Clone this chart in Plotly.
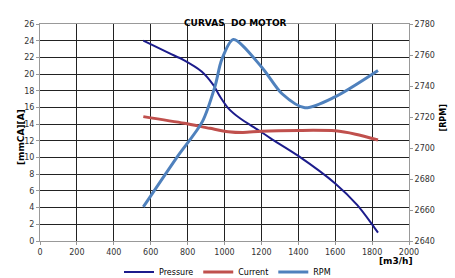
import plotly.graph_objects as go

pressure_x = [560, 700, 777, 876, 939, 976, 1021, 1084, 1183, 1250, 1400, 1600, 1720, 1800, 1832]
pressure_y = [24.0, 22.5, 21.7, 20.3, 18.7, 17.3, 15.9, 14.7, 13.3, 12.3, 10.2, 6.9, 4.3, 2.0, 1.0]

current_x = [560, 783, 921, 1021, 1100, 1200, 1400, 1600, 1710, 1832]
current_y = [14.9, 14.1, 13.5, 13.1, 13.0, 13.15, 13.25, 13.2, 12.8, 12.1]

rpm_x = [560, 742, 880, 949, 985, 1048, 1203, 1312, 1436, 1599, 1832]
rpm_y = [2662, 2694, 2717, 2740, 2757, 2770, 2752, 2735, 2726, 2733, 2750]

x_ticks = list(range(0, 2001, 200))
y_ticks = list(range(0, 27, 2))
y2_ticks = list(range(2640, 2781, 20))

FONT = "DejaVu Sans"
W, H = 455, 278
pl, pr, pt, pb = 40, 409, 24, 241

fig = go.Figure()
fig.add_trace(go.Scatter(x=pressure_x, y=pressure_y, name="Pressure", mode="lines",
                         line=dict(color="#1C1C8C", width=2, shape="spline", smoothing=0.8)))
fig.add_trace(go.Scatter(x=current_x, y=current_y, name="Current", mode="lines",
                         line=dict(color="#C0504D", width=3, shape="spline", smoothing=0.8)))
fig.add_trace(go.Scatter(x=rpm_x, y=rpm_y, name="RPM", mode="lines", yaxis="y2",
                         line=dict(color="#4F81BD", width=3, shape="spline", smoothing=0.8)))

def ax(px):
    return (px - pl) / (pr - pl)

def ay(py):
    return (pb - py) / (pb - pt)

fig.update_layout(
    width=W, height=H,
    margin=dict(l=pl, r=W - pr, t=pt, b=H - pb, autoexpand=False),
    paper_bgcolor="white", plot_bgcolor="white",
    font=dict(family=FONT, size=8, color="#333333"),
    showlegend=True,
    legend=dict(orientation="h", x=0.5, xanchor="center", xref="container",
                y=(H - 272) / H, yanchor="middle", yref="container",
                font=dict(size=8, color="#000000"), tracegroupgap=0,
                bgcolor="rgba(0,0,0,0)"),
    xaxis=dict(range=[0, 2000], tickvals=x_ticks, showgrid=True, gridcolor="#222222", gridwidth=1,
               showline=True, linecolor="#999999", mirror=True, ticks="outside", ticklen=3,
               tickcolor="#999999", zeroline=False, fixedrange=True, automargin=False),
    yaxis=dict(range=[0, 26], tickvals=y_ticks, showgrid=True, gridcolor="#222222", gridwidth=1,
               showline=True, linecolor="#999999", ticks="outside", ticklen=3, tickcolor="#999999",
               zeroline=False, fixedrange=True, automargin=False),
    yaxis2=dict(range=[2640, 2780], tickvals=y2_ticks, overlaying="y", side="right", showgrid=False,
                showline=True, linecolor="#999999", ticks="outside", ticklen=3, tickcolor="#999999",
                zeroline=False, fixedrange=True, automargin=False),
    annotations=[
        dict(text="<b>CURVAS\u00a0\u00a0DO MOTOR</b>", x=ax(235), y=ay(16), xref="paper", yref="paper",
             showarrow=False, font=dict(size=9, color="#000000")),
        dict(text="<b>[mmCA][A]</b>", x=ax(14), y=ay(137), xref="paper", yref="paper", textangle=-90,
             showarrow=False, font=dict(size=9, color="#000000")),
        dict(text="<b>[RPM]</b>", x=ax(449), y=ay(118), xref="paper", yref="paper", textangle=-90,
             showarrow=False, font=dict(size=8, color="#000000")),
        dict(text="<b>[m3/h]</b>", x=ax(415), y=ay(268), xref="paper", yref="paper",
             showarrow=False, font=dict(size=9, color="#000000")),
    ],
)

fig.write_html("out.html", config={"displayModeBar": False},
               post_script="document.body.style.margin='0px';document.body.style.padding='0px';")
